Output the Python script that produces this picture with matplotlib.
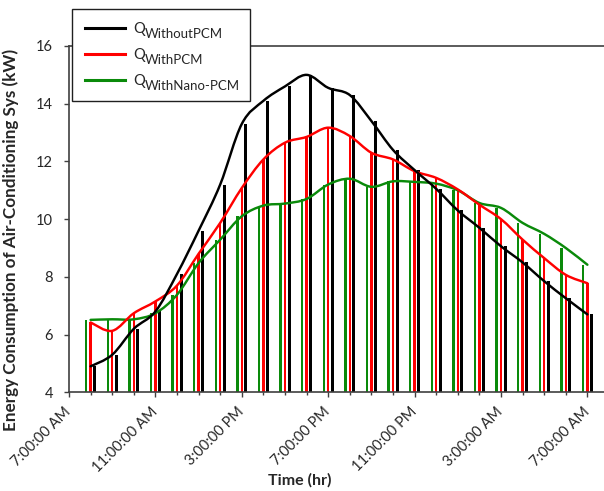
import matplotlib
import numpy as np
from matplotlib import pyplot as plt
from matplotlib.lines import Line2D
from matplotlib.path import Path
from matplotlib.patches import PathPatch
from matplotlib.ticker import MultipleLocator
from matplotlib.transforms import IdentityTransform

matplotlib.use('Agg')

plt.rcParams['font.family'] = ['Lato', 'DejaVu Sans']

# hours after 7:00 AM, one value per hour (8 AM ... 7 AM next day)
hours = list(range(1, 25))
q_without_pcm = [4.9, 5.3, 6.2, 6.8, 8.1, 9.6, 11.2, 13.3, 14.1, 14.6, 15.0, 14.55,
                 14.3, 13.4, 12.4, 11.7, 11.05, 10.3, 9.7, 9.06, 8.5, 7.85, 7.26, 6.7]
q_with_pcm = [6.42, 6.13, 6.74, 7.15, 7.7, 8.8, 9.87, 11.08, 12.07, 12.65, 12.85, 13.17,
              12.88, 12.3, 12.07, 11.66, 11.43, 11.03, 10.5, 10.0, 9.29, 8.65, 8.07, 7.78]
q_with_nano = [6.51, 6.53, 6.53, 6.74, 7.38, 8.48, 9.29, 10.1, 10.47, 10.54, 10.7, 11.2,
               11.4, 11.12, 11.31, 11.29, 11.23, 11.0, 10.56, 10.39, 9.87, 9.49, 9.0, 8.42]

tick_hours = [0, 4, 8, 12, 16, 20, 24]
tick_labels = ['7:00:00 AM', '11:00:00 AM', '3:00:00 PM', '7:00:00 PM',
               '11:00:00 PM', '3:00:00 AM', '7:00:00 AM']
subscripts = ['WithoutPCM', 'WithPCM', 'WithNano-PCM']

GREEN = '#0a8a0a'
RED = '#ff0000'
BLACK = '#000000'
TEXT = '#262626'
LEG_FS = 10.5
SUB_FS = 9.5


# 平滑曲线（Catmull-Rom 转三次贝塞尔）
def smooth_patch(x, y, color):
    pts = np.column_stack([x, y]).astype(float)
    verts = [tuple(pts[0])]
    codes = [Path.MOVETO]
    n = len(pts)
    for i in range(n - 1):
        p0 = pts[i - 1] if i > 0 else pts[i]
        p1 = pts[i]
        p2 = pts[i + 1]
        p3 = pts[i + 2] if i + 2 < n else pts[i + 1]
        verts += [tuple(p1 + (p2 - p0) / 6), tuple(p2 - (p3 - p1) / 6), tuple(p2)]
        codes += [Path.CURVE4] * 3
    return PathPatch(Path(verts, codes), fill=False, edgecolor=color, lw=1.75,
                     zorder=4, capstyle='round', joinstyle='round')


fig = plt.figure(figsize=(6.04, 4.91), dpi=100)
ax = fig.add_axes([69 / 604, 1 - 392.3 / 491, 540 / 604, 346.3 / 491])

x = np.array(hours)
ax.bar(x - 0.2, q_with_nano, width=0.11, color=GREEN, zorder=2)
ax.bar(x, q_with_pcm, width=0.11, color=RED, zorder=2)
ax.bar(x + 0.19, q_without_pcm, width=0.14, color=BLACK, zorder=2)

ax.add_patch(smooth_patch(hours, q_with_nano, GREEN))
ax.add_patch(smooth_patch(hours, q_with_pcm, RED))
ax.add_patch(smooth_patch(hours, q_without_pcm, BLACK))

ax.set_xlim(0, 25)
ax.set_ylim(4, 16)
ax.set_yticks([4, 6, 8, 10, 12, 14, 16])
ax.set_xticks(tick_hours)
ax.set_xticklabels(tick_labels, rotation=45, ha='right', va='center',
                   rotation_mode='anchor')
ax.xaxis.set_minor_locator(MultipleLocator(1))
ax.tick_params(axis='both', which='major', direction='out', length=3.5, width=1,
               labelsize=10.5, labelcolor=TEXT, color='#404040')
ax.tick_params(axis='x', which='major', pad=9)
ax.tick_params(axis='y', which='major', pad=8)
ax.tick_params(axis='x', which='minor', direction='out', length=2.5, width=1,
               color='#404040')
ax.spines['right'].set_visible(False)
for s in ['left', 'bottom', 'top']:
    ax.spines[s].set_color('#404040')
    ax.spines[s].set_linewidth(1.2)

ax.set_xlabel('Time (hr)', fontsize=11.5, fontweight='bold', color=TEXT)
ax.xaxis.set_label_coords(0.428, -0.232)
ax.set_ylabel('Energy Consumption of Air-Conditioning Sys (kW)', fontsize=12.3,
              fontweight='bold', color=TEXT)
ax.yaxis.set_label_coords(-0.092, 0.44)

# 图例文字：Q 加下标，先量宽度
renderer = fig.canvas.get_renderer()
q_texts, sub_texts, widths = [], [], []
for sub in subscripts:
    q = fig.text(0, 0, 'Q', fontsize=LEG_FS, color=TEXT, va='bottom', ha='left',
                 transform=IdentityTransform(), zorder=20)
    s = fig.text(0, 0, sub, fontsize=SUB_FS, color=TEXT, va='bottom', ha='left',
                 transform=IdentityTransform(), zorder=20)
    widths.append(q.get_window_extent(renderer).width + 0.5
                  + s.get_window_extent(renderer).width)
    q_texts.append(q)
    sub_texts.append(s)
tmp = fig.text(0, 0, ' ' * 40, fontsize=LEG_FS)
space_w = tmp.get_window_extent(renderer).width / 40
tmp.remove()
labels = [' ' * int(np.floor(w / space_w)) for w in widths]

handles = [Line2D([], [], color=c, lw=2.2) for c in (BLACK, RED, GREEN)]
leg = ax.legend(handles, labels, loc='upper left',
                bbox_to_anchor=(72.3 / 604, 1 - 9.3 / 491),
                bbox_transform=fig.transFigure, borderaxespad=0,
                fontsize=LEG_FS, handlelength=2.75, handletextpad=0.55,
                labelspacing=0.85, borderpad=0.85, fancybox=False, framealpha=1)
leg.get_frame().set_edgecolor('#202020')
leg.get_frame().set_linewidth(1.0)
leg.set_zorder(10)

fig.canvas.draw()
for t, q, s in zip(leg.get_texts(), q_texts, sub_texts):
    bb = t.get_window_extent(renderer)
    q.set_position((bb.x0, bb.y0))
    qb = q.get_window_extent(renderer)
    s.set_position((qb.x1 + 0.5, bb.y0 - 4))

fig.savefig('out.png', dpi=100)
